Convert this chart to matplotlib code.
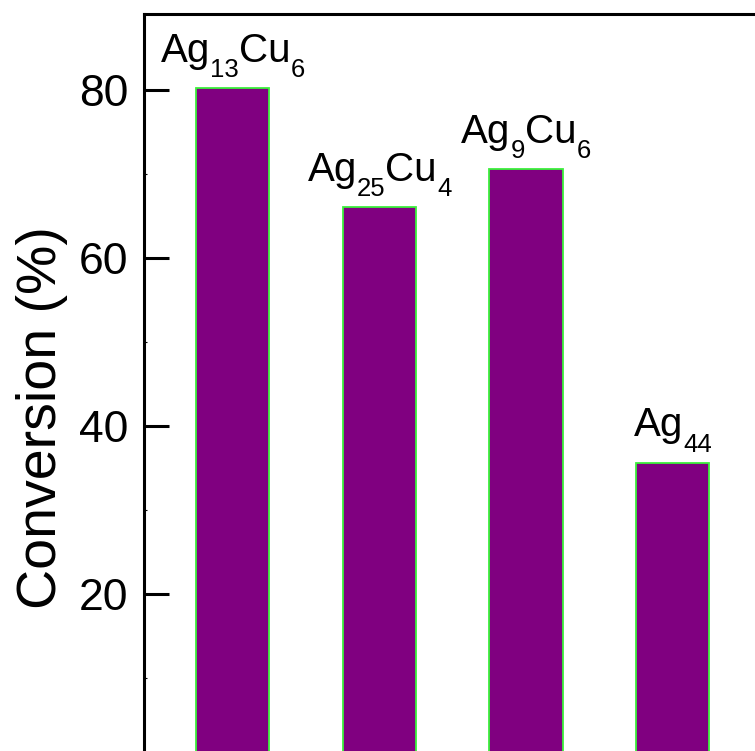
import matplotlib
matplotlib.use('Agg')
import matplotlib.pyplot as plt
from matplotlib.ticker import MultipleLocator

plt.rcParams['font.family'] = ['Liberation Sans', 'DejaVu Sans']

# conversion for each cluster
positions = [1, 2, 3, 4]
conversion = [80.2, 66.0, 70.5, 35.6]
# cluster formulas split into (text, is_subscript) pieces
formulas = [
    [('Ag', 0), ('13', 1), ('Cu', 0), ('6', 1)],
    [('Ag', 0), ('25', 1), ('Cu', 0), ('4', 1)],
    [('Ag', 0), ('9', 1), ('Cu', 0), ('6', 1)],
    [('Ag', 0), ('44', 1)],
]
yticks = [20, 40, 60, 80]

dpi = 100
fig = plt.figure(figsize=(7.55, 7.51), dpi=dpi)
ax = fig.add_axes([0.1907, -0.0146, 0.817, 0.996])

ax.bar(positions, conversion, width=0.5, color='#800080',
       edgecolor='#3cf03c', linewidth=1.3)

ax.set_xlim(0.395, 4.6)
ax.set_ylim(0, 89)
ax.set_xticks([])
ax.set_yticks(yticks)
ax.yaxis.set_minor_locator(MultipleLocator(10))
ax.tick_params(axis='y', which='major', direction='in', length=18, width=2.2,
               labelsize=32, pad=11.5)
ax.tick_params(axis='y', which='minor', direction='in', length=2.5, width=0.8)
for sp in ax.spines.values():
    sp.set_linewidth(2.2)

ax.set_ylabel('Conversion (%)', fontsize=40)
ax.yaxis.set_label_coords(-0.123, 0.46)

# formula labels above bars, built piece by piece so subscripts sit low
renderer = fig.canvas.get_renderer()
big, small = 29, 18.5
for x, val, parts in zip(positions, conversion, formulas):
    widths = []
    for txt, sub in parts:
        t = ax.text(0, 0, txt, fontsize=small if sub else big)
        widths.append(t.get_window_extent(renderer).width)
        t.remove()
    off = -sum(widths) / 2
    for (txt, sub), w in zip(parts, widths):
        ax.annotate(txt, xy=(x, val), xytext=(off * 72 / dpi, 19 - (11 if sub else 0)),
                    textcoords='offset points', ha='left', va='baseline',
                    fontsize=small if sub else big, annotation_clip=False)
        off += w

fig.savefig('out.png', dpi=dpi)
